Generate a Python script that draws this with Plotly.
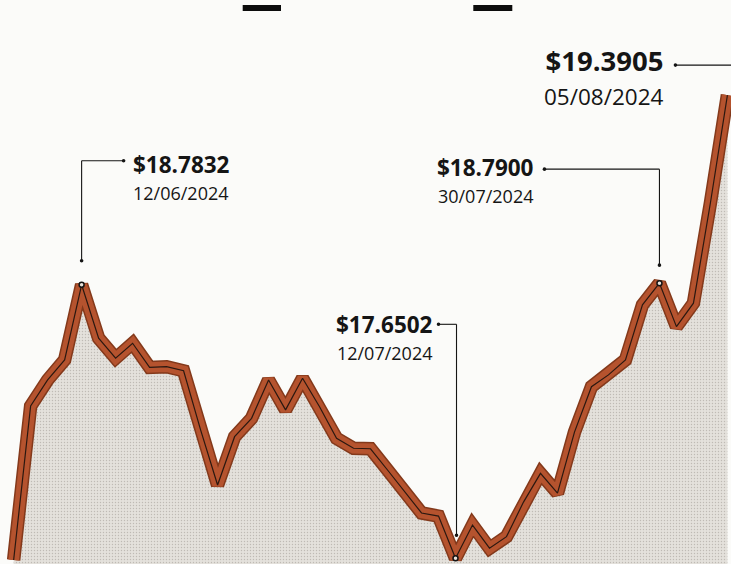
import plotly.graph_objects as go

# ---------------- data ----------------
dates = [
    "06/06/2024", "07/06/2024", "10/06/2024", "11/06/2024", "12/06/2024",
    "13/06/2024", "14/06/2024", "17/06/2024", "18/06/2024", "19/06/2024",
    "20/06/2024", "21/06/2024", "24/06/2024", "25/06/2024", "26/06/2024",
    "27/06/2024", "28/06/2024", "01/07/2024", "02/07/2024", "03/07/2024",
    "04/07/2024", "05/07/2024", "08/07/2024", "09/07/2024", "10/07/2024",
    "11/07/2024", "12/07/2024", "15/07/2024", "16/07/2024", "17/07/2024",
    "18/07/2024", "19/07/2024", "22/07/2024", "23/07/2024", "24/07/2024",
    "25/07/2024", "26/07/2024", "29/07/2024", "30/07/2024", "31/07/2024",
    "01/08/2024", "02/08/2024", "05/08/2024",
]
rate = [
    17.643, 18.281, 18.389, 18.472, 18.7832,
    18.562, 18.479, 18.541, 18.441, 18.444,
    18.427, 18.182, 17.954, 18.154, 18.230,
    18.389, 18.265, 18.396, 18.278, 18.147,
    18.106, 18.104, 18.016, 17.925, 17.838,
    17.825, 17.6502, 17.788, 17.692, 17.740,
    17.883, 18.002, 17.920, 18.173, 18.361,
    18.410, 18.472, 18.700, 18.7900, 18.610,
    18.707, 19.123, 19.569,
]
label_dates = ["12/06/2024", "12/07/2024", "30/07/2024", "05/08/2024"]
label_values = ["$18.7832", "$17.6502", "$18.7900", "$19.3905"]

# ---------------- layout constants ----------------
W, H = 731, 564
X_RANGE = [-0.8026, 42.21]
Y_RANGE = [17.6266, 19.963]
FONT = "Open Sans"
INK = "#151515"

idx = list(range(len(dates)))

fig = go.Figure()

# shaded area + dark edge of the line
fig.add_trace(go.Scatter(
    x=idx, y=rate, mode="lines", fill="tozeroy",
    fillcolor="#e2dfda",
    fillpattern=dict(shape=".", bgcolor="#e4e1dc", fgcolor="#9a948e",
                     size=3, solidity=0.18),
    line=dict(color="#83391b", width=13.5),
    hoverinfo="skip", showlegend=False,
))
# rust body
fig.add_trace(go.Scatter(
    x=idx, y=rate, mode="lines",
    line=dict(color="#b5532e", width=10.5),
    hoverinfo="skip", showlegend=False,
))
# thin dark centre line
fig.add_trace(go.Scatter(
    x=idx, y=rate, mode="lines",
    line=dict(color="#2b1810", width=1.2),
    hoverinfo="skip", showlegend=False,
))

# highlighted points (the last one lies at the cropped right edge)
lab_idx = [dates.index(d) for d in label_dates]
dot_idx = lab_idx[:3]
fig.add_trace(go.Scatter(
    x=dot_idx, y=[rate[i] for i in dot_idx], mode="markers",
    marker=dict(size=5, color="#e9e2da", line=dict(color=INK, width=1.5)),
    hoverinfo="skip", showlegend=False,
))

# leader geometry in pixel offsets from each point (x right, y down)
leaders = [
    dict(path=[(0, -24), (0, -124), (42, -124)], tx=50, anchor="left",
         ty=-108, base=21, vsize=22.5, dsize=18),
    dict(path=[(1, -23), (1, -234), (-17, -234)], tx=-22, anchor="right",
         ty=-221, base=21, vsize=22.5, dsize=18),
    dict(path=[(0, -18), (0, -114), (-115, -114)], tx=-124, anchor="right",
         ty=-103, base=21, vsize=22.5, dsize=18),
    dict(path=[(-52, -30), (12, -30)], tx=-62, anchor="right",
         ty=-18, base=26, vsize=27.5, dsize=22.5),
]

shapes = []
annotations = []
for k, i in enumerate(lab_idx):
    L = leaders[k]
    xa, ya = i, rate[i]
    pts = L["path"]
    for (x0, y0), (x1, y1) in zip(pts[:-1], pts[1:]):
        shapes.append(dict(
            type="line", xref="x", yref="y",
            xsizemode="pixel", ysizemode="pixel", xanchor=xa, yanchor=ya,
            x0=x0, x1=x1, y0=-y0, y1=-y1,
            line=dict(color=INK, width=1.1), layer="above"))
    for (px, py) in (pts[0], pts[-1]):
        shapes.append(dict(
            type="circle", xref="x", yref="y",
            xsizemode="pixel", ysizemode="pixel", xanchor=xa, yanchor=ya,
            x0=px - 1.8, x1=px + 1.8, y0=-py - 1.8, y1=-py + 1.8,
            fillcolor=INK, line=dict(width=0), layer="above"))
    txt = ("<b><span style='font-size:%gpx'>%s</span></b><br>"
           "<span style='font-size:%gpx'>%s</span>"
           % (L["vsize"], label_values[k], L["dsize"], label_dates[k]))
    annotations.append(dict(
        x=xa, y=ya, xref="x", yref="y", showarrow=False,
        xshift=L["tx"], yshift=-L["ty"], xanchor=L["anchor"], yanchor="middle",
        align=L["anchor"], text=txt, borderpad=0,
        font=dict(family=FONT, size=L["base"], color=INK)))

# two cut-off black bars at the top edge (remnants of a heading)
for (x0, x1) in ((242.7, 281.0), (473.3, 512.3)):
    shapes.append(dict(type="rect", xref="paper", yref="paper",
                       x0=x0 / W, x1=x1 / W, y0=1 - 11 / H, y1=1 - 5 / H,
                       fillcolor="#0c0c0c", line=dict(width=0), layer="above"))

fig.update_layout(
    width=W, height=H,
    margin=dict(l=0, r=0, t=0, b=0),
    paper_bgcolor="#fbfbf9", plot_bgcolor="#fbfbf9",
    xaxis=dict(range=X_RANGE, visible=False, fixedrange=True),
    yaxis=dict(range=Y_RANGE, visible=False, fixedrange=True),
    shapes=shapes, annotations=annotations,
    showlegend=False,
)

fig.write_html("out.html",
               config={"displayModeBar": False, "staticPlot": True},
               post_script="document.body.style.margin='0';"
                           "document.body.style.overflow='hidden';")
